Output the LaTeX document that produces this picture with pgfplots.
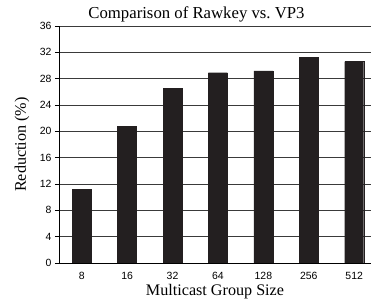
\documentclass[border=0pt]{standalone}
\usepackage{fontspec}
\setmainfont{Liberation Serif}
\newfontfamily\arialfont{Liberation Sans}
\usepackage{pgfplots}
\pgfplotsset{compat=1.18}
\definecolor{barc}{HTML}{231F20}
\definecolor{gridc}{HTML}{3A3A3A}
\begin{document}
\begin{tikzpicture}
\begin{axis}[
  scale only axis,
  width=312bp, height=237bp,
  at={(0,0)}, anchor=south west,
  xmin=-0.5, xmax=6.37,
  ymin=0, ymax=36,
  ytick={0,4,...,36},
  xtick={0,...,6},
  xticklabels={8,16,32,64,128,256,512},
  extra x ticks={-0.5,0.5,1.5,2.5,3.5,4.5,5.5},
  extra x tick labels={},
  extra x tick style={major tick length=4.5bp, tick style={black, line width=0.7pt}},
  major x tick style={draw=none},
  axis x line*=bottom,
  axis y line*=left,
  tick align=outside,
  major tick length=4bp,
  ymajorgrids,
  grid style={gridc, line width=0.7pt},
  axis line style={black, line width=0.8pt},
  tick style={black, line width=0.7pt},
  /pgf/number format/assume math mode=true,
  tick label style={font=\arialfont\fontsize{10.5}{11}\selectfont},
  xticklabel style={yshift=-1.5bp},
  every axis title shift=0pt,
  title={Comparison of Rawkey vs.\ VP3},
  title style={font=\fontsize{16.8}{18}\selectfont, at={(axis description cs:0.4407,1.0316)}, anchor=base},
  xlabel={Multicast Group Size},
  ylabel={Reduction (\%)},
  label style={font=\fontsize{16.2}{18}\selectfont},
  xlabel style={at={(axis description cs:0.5,-0.139)}, anchor=base},
  ylabel style={at={(axis description cs:-0.1186,0.5)}, anchor=center, rotate=0},
  ybar, bar width=19bp,
]
\addplot[fill=barc, draw=barc] coordinates {(0,11.2) (1,20.8) (2,26.5) (3,28.9) (4,29.2) (5,31.2) (6,30.6)};
\end{axis}
\pgfresetboundingbox
\path (-59bp,-40bp) rectangle (312bp,263bp);
\end{tikzpicture}
\end{document}
